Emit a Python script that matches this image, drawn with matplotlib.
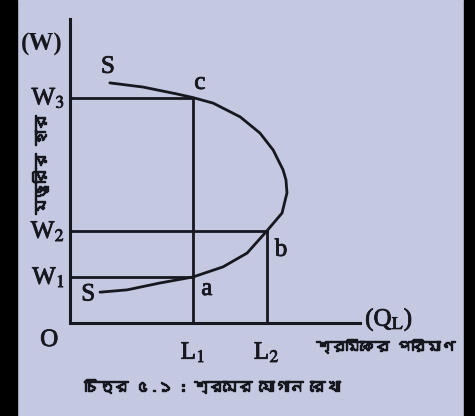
import matplotlib
matplotlib.use("Agg")
import matplotlib.pyplot as plt
import matplotlib.patheffects as pe
from matplotlib import font_manager
from matplotlib.ft2font import FT2Font
from matplotlib.patches import Rectangle

# wage levels and labour quantities
wages = [1.0, 2.0, 4.9]
wage_labels = ["W$_1$", "W$_2$", "W$_3$"]
labour = [2.5, 4.0]
labour_labels = ["L$_1$", "L$_2$"]

# backward bending supply curve, from the lower S to the upper S
curve_x = [0.61, 1.16, 1.83, 2.5, 3.11, 3.60, 4.0, 4.31, 4.41, 4.39, 4.33,
           4.13, 3.86, 3.46, 2.91, 2.5, 2.17, 1.48, 0.81]
curve_y = [0.67, 0.72, 0.87, 1.0, 1.22, 1.52, 2.0, 2.39, 2.83, 3.11, 3.33,
           3.76, 4.13, 4.48, 4.78, 4.9, 4.98, 5.13, 5.22]

x_max = 5.9
y_max = 6.6


def bengali_font():
    for f in font_manager.fontManager.ttflist:
        try:
            if 0x09AE in FT2Font(f.fname).get_charmap():
                return f.name
        except Exception:
            pass
    return "DejaVu Sans"


bg = "#c4c9e1"
ink = "#17171f"
serif = "Liberation Serif"
bn = [bengali_font(), "DejaVu Sans"]
plt.rcParams["mathtext.fontset"] = "stix"
fs = 18
heavy = [pe.withStroke(linewidth=0.6, foreground=ink)]
heavier = [pe.withStroke(linewidth=1.0, foreground=ink)]

fig = plt.figure(figsize=(4.75, 4.16), dpi=100, facecolor=bg)
ax = fig.add_axes([0, 0, 1, 1])
ax.set_facecolor(bg)
ax.set_xlim(-1.423, 8.232)
ax.set_ylim(-2.022, 7.022)
ax.axis("off")

# axes
ax.plot([0, 0, x_max], [y_max, 0, 0], color=ink, lw=2.2, solid_joinstyle="miter")

# guide lines
ax.plot([0, labour[0]], [wages[2], wages[2]], color=ink, lw=2.0)
ax.plot([labour[0], labour[0]], [0, wages[2]], color=ink, lw=2.0)
ax.plot([0, labour[1]], [wages[1], wages[1]], color=ink, lw=2.0)
ax.plot([labour[1], labour[1]], [0, wages[1]], color=ink, lw=2.0)
ax.plot([0, labour[0]], [wages[0], wages[0]], color=ink, lw=2.0)

ax.plot(curve_x, curve_y, color=ink, lw=2.0, solid_capstyle="round")

for w, lab in zip(wages, wage_labels):
    ax.text(-0.1, w, lab, ha="right", va="center", fontsize=fs,
            family=serif, color=ink, path_effects=heavy)
for l, lab in zip(labour, labour_labels):
    ax.text(l, -0.63, lab, ha="center", va="center", fontsize=fs,
            family=serif, color=ink, path_effects=heavy)

ax.text(-0.24, -0.37, "O", ha="right", va="center", fontsize=fs, family=serif,
        color=ink, path_effects=heavy)
ax.text(-0.15, y_max - 0.55, "(W)", ha="right", va="center", fontsize=fs,
        family=serif, color=ink, fontweight="bold")
ax.text(x_max + 0.1, 0.07, r"(Q$_\mathrm{L}$)", ha="left", va="center", fontsize=fs,
        family=serif, color=ink, path_effects=heavy)

# point labels
for px, py, lab in [(0.77, 5.57, "S"), (0.37, 0.62, "S"), (2.64, 5.22, "c"),
                    (2.78, 0.74, "a"), (4.29, 1.59, "b")]:
    ax.text(px, py, lab, ha="center", va="center", fontsize=fs, family=serif,
            color=ink, path_effects=heavy)

# bengali labels
ax.text(-0.61, 3.45, "মজুরির হার", rotation=90, ha="center", va="center",
        fontsize=11, family=bn, color=ink, fontweight="bold", path_effects=heavier)
ax.text(6.42, -0.5, "শ্রমিকের পরিমাণ", ha="center", va="center",
        fontsize=10.5, family=bn, color=ink, fontweight="bold", path_effects=heavier)
ax.text(2.89, -1.37, "চিত্র ৫.১ : শ্রমের যোগান রেখা", ha="center", va="center",
        fontsize=10.5, family=bn, color=ink, fontweight="bold", path_effects=heavier)

# dark border strips at the sides
fig.add_artist(Rectangle((0, 0), 17 / 475, 1, transform=fig.transFigure,
                         color="black", zorder=5))
fig.add_artist(Rectangle((464 / 475, 0), 11 / 475, 1, transform=fig.transFigure,
                         color="black", zorder=5))

fig.savefig("out.png", dpi=100, facecolor=bg)
